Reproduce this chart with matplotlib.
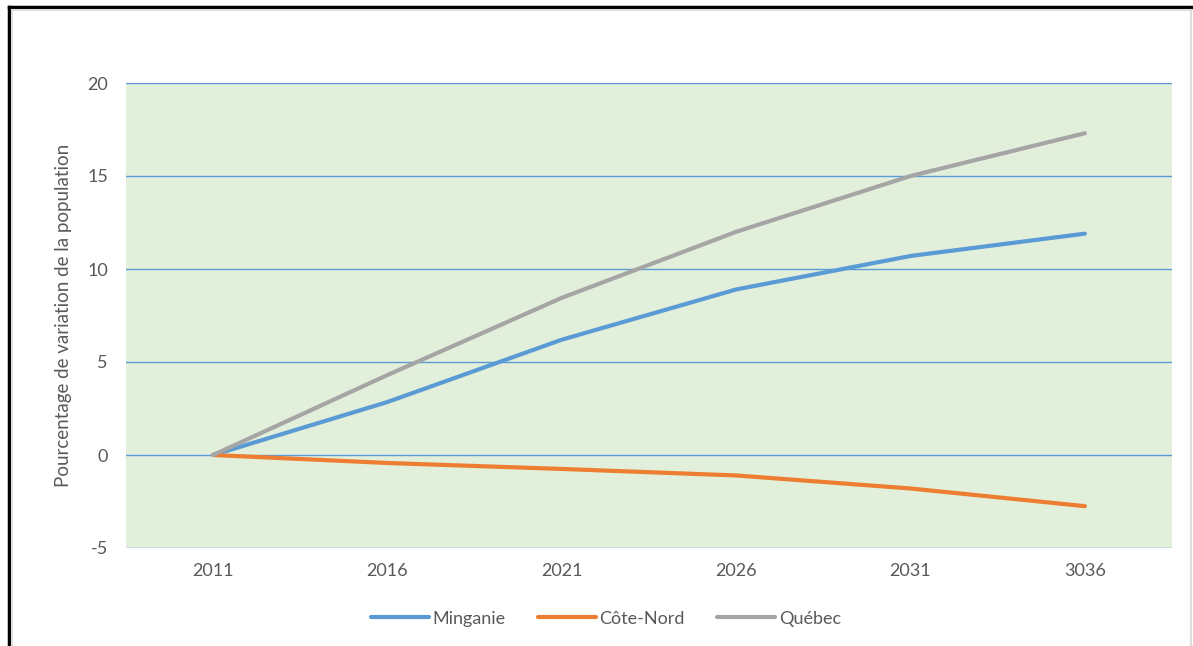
import matplotlib
matplotlib.use("Agg")
import matplotlib.pyplot as plt
from matplotlib.lines import Line2D

years = ["2011", "2016", "2021", "2026", "2031", "3036"]
minganie = [0, 2.85, 6.2, 8.9, 10.7, 11.9]
cote_nord = [0, -0.43, -0.75, -1.1, -1.8, -2.75]
quebec = [0, 4.3, 8.45, 12.0, 15.0, 17.3]

plt.rcParams['font.family'] = ['Lato', 'DejaVu Sans']
plt.rcParams['axes.unicode_minus'] = False
txt = '#595959'

fig = plt.figure(figsize=(11.93, 6.46), dpi=100)
ax = fig.add_axes([126/1193, 98/646, 1046/1193, 465/646])
ax.set_facecolor('#E2EFDA')

x = range(len(years))
ax.plot(x, minganie, color='#5B9BD5', lw=3, label='Minganie', solid_capstyle='round')
ax.plot(x, cote_nord, color='#ED7D31', lw=3, label='Côte-Nord', solid_capstyle='round')
ax.plot(x, quebec, color='#A5A5A5', lw=3, label='Québec', solid_capstyle='round')

ax.set_xlim(-0.5, len(years) - 0.5)
ax.set_ylim(-5, 20)
ax.set_yticks([-5, 0, 5, 10, 15, 20])
ax.set_xticks(list(x))
ax.set_xticklabels(years)
ax.yaxis.grid(True, color='#5B9BD5', lw=1)
ax.set_axisbelow(True)
for s in ax.spines.values():
    s.set_visible(False)
ax.tick_params(length=0, labelsize=13, colors=txt)
ax.tick_params(axis='y', pad=13)
ax.tick_params(axis='x', pad=11)
ax.set_ylabel("Pourcentage de variation de la population", fontsize=13.5, color=txt, va='center')
ax.yaxis.set_label_coords(-0.060, 0.5)

ax.legend(loc='upper center', bbox_to_anchor=(0.459, -0.1), ncol=3, frameon=False,
          fontsize=13, labelcolor=txt, handlelength=3.2, handletextpad=0.2, columnspacing=1.8)

# outer frame
fig.add_artist(Line2D([9/1193, 9/1193], [0, 1 - 7/646], color='black', lw=2.5, transform=fig.transFigure))
fig.add_artist(Line2D([9/1193, 1], [1 - 7/646, 1 - 7/646], color='black', lw=2.5, transform=fig.transFigure))
fig.add_artist(Line2D([12/1193, 12/1193], [0, 1 - 10/646], color='#DDDDDD', lw=1.5, transform=fig.transFigure))
fig.add_artist(Line2D([12/1193, 1], [1 - 10/646, 1 - 10/646], color='#DDDDDD', lw=1.5, transform=fig.transFigure))
fig.add_artist(Line2D([1191/1193, 1191/1193], [0, 1 - 10/646], color='#DDDDDD', lw=1.5, transform=fig.transFigure))

fig.savefig("out.png", dpi=100)
